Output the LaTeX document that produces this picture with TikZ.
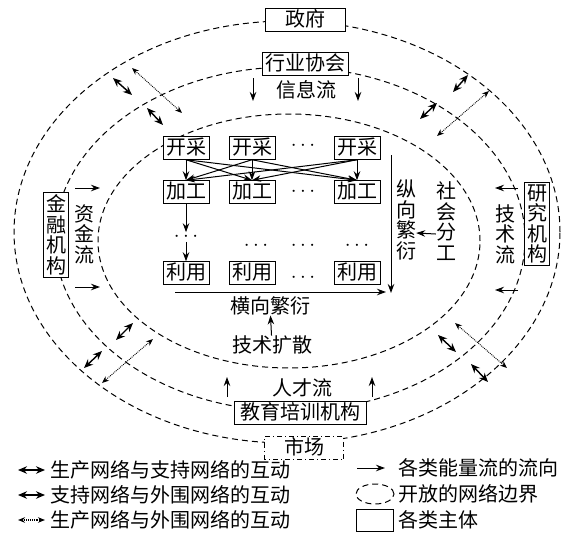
\documentclass[tikz,border=0pt]{standalone}
\usepackage{fontspec}
\setmainfont{Noto Sans CJK SC}
\usetikzlibrary{arrows.meta}
\begin{document}
\begin{tikzpicture}[x=1pt, y=-1pt, >={Stealth[length=9pt, width=6.5pt]},
    every node/.style={font=\fontsize{20}{20.5}\selectfont, inner sep=0pt},
    actor/.style={draw, fill=white, line width=1pt, inner xsep=3pt, inner ysep=2pt, text height=15.5pt, text depth=3pt},
    vactor/.style={draw, fill=white, line width=1pt, inner sep=2.5pt, align=center},
    vlabel/.style={align=center},
    bound/.style={line width=1pt, dash pattern=on 6pt off 4pt},
    flow/.style={->, line width=1pt},
    near/.style={{Stealth[length=9pt, width=7.5pt]}-{Stealth[length=9pt, width=7.5pt]}, line width=1.4pt},
    far/.style={{Stealth[length=7pt, width=5.5pt]}-{Stealth[length=7pt, width=5.5pt]}, line width=0.9pt, densely dotted}]
  \useasboundingbox (0,0) rectangle (578,533);
  % open network boundaries
  \draw[bound] (287,232) ellipse [x radius=273pt, y radius=211pt];
  \draw[bound] (290,239) ellipse [x radius=235pt, y radius=172pt];
  \draw[bound] (289,241) ellipse [x radius=191pt, y radius=127pt];

  % production network
  \foreach \i/\x in {1/186, 2/252, 3/357} {
    \node[actor] (mine\i) at (\x,148) {开采};
    \node[actor] (proc\i) at (\x,192) {加工};
    \node[actor] (use\i) at (\x,273) {利用};
  }
  \node (mdots) at (303,146) {$\cdots$};
  \node (pdots) at (303,192) {$\cdots$};
  \node (udots) at (303,278) {$\cdots$};
  \node (dots1) at (186,237) {$\cdots$};
  \node (dots2) at (256,246) {$\cdots$};
  \node (dots3) at (303,246) {$\cdots$};
  \node (dots4) at (357,246) {$\cdots$};
  \foreach \i in {1,2,3}
    \foreach \j in {1,2,3}
      \draw[flow] (mine\i.south) -- (proc\j.north);
  \draw[flow] (proc1) -- (dots1);
  \draw[flow] (dots1) -- (use1);

  \coordinate (vtop) at (391,155);
  \coordinate (vbot) at (391,293);
  \draw[flow] (vtop) -- (vbot);
  \node[vlabel] (vert) at (406,220) {纵\\向\\繁\\衍};
  \coordinate (hleft) at (175,292);
  \coordinate (hright) at (386,292);
  \draw[flow] (hleft) -- (hright);
  \node (horiz) at (270,306) {横向繁衍};
  \node (diffuse) at (272,345) {技术扩散};
  \draw[flow] (diffuse) -- (horiz);
  \node[vlabel] (labor) at (446,221) {社\\会\\分\\工};
  \draw[flow] ([yshift=-13pt]labor.west) -- ([yshift=-13pt]vert.east);

  % support network
  \node[actor, minimum width=80pt] (gov) at (305,20) {政府};
  \node[actor] (assoc) at (305,64) {行业协会};
  \node (info) at (306,90) {信息流};
  \coordinate (ia) at (253,78);  \coordinate (ib) at (253,101);
  \coordinate (ic) at (358,78);  \coordinate (id) at (358,101);
  \draw[flow] (ia) -- (ib);
  \draw[flow] (ic) -- (id);

  \node[vactor] (res) at (537,224) {研\\究\\机\\构};
  \node[vlabel] (techflow) at (505,234) {技\\术\\流};
  \coordinate (ra) at (518,188);  \coordinate (rb) at (495,188);
  \coordinate (rc) at (518,290);  \coordinate (rd) at (495,290);
  \draw[flow] (ra) -- (rb);
  \draw[flow] (rc) -- (rd);

  \node[vactor] (fin) at (56,235) {金\\融\\机\\构};
  \node[vlabel] (capflow) at (84,234) {资\\金\\流};
  \coordinate (fa) at (75,188);  \coordinate (fb) at (100,188);
  \coordinate (fc) at (75,287);  \coordinate (fd) at (100,287);
  \draw[flow] (fa) -- (fb);
  \draw[flow] (fc) -- (fd);

  \node[actor, inner xsep=6pt] (edu) at (300,413) {教育培训机构};
  \node (talent) at (302,388) {人才流};
  \coordinate (ea) at (227,397);  \coordinate (eb) at (227,377);
  \coordinate (ec) at (372,397);  \coordinate (ed) at (372,377);
  \draw[flow] (ea) -- (eb);
  \draw[flow] (ec) -- (ed);

  \node[actor, minimum width=78pt, draw=none] (market) at (304,448) {市场};
  \draw[line width=1pt, dash pattern=on 5pt off 3pt on 1pt off 3pt] (market.south west) rectangle (market.north east);

  % interactions between networks
  \foreach \n/\a/\b/\c/\d in {1/113/78/132/95, 2/147/108/163/125,
      3/468/75/453/92, 4/437/103/420/119, 5/133/323/116/340,
      6/102/351/84/368, 7/438/335/456/352, 8/471/364/488/382} {
    \coordinate (ns\n) at (\a,\b);
    \coordinate (ne\n) at (\c,\d);
    \draw[near] (ns\n) -- (ne\n);
  }
  \foreach \n/\a/\b/\c/\d in {1/132/68/182/113, 2/489/91/437/136,
      3/153/339/102/383, 4/455/323/507/368} {
    \coordinate (fs\n) at (\a,\b);
    \coordinate (fe\n) at (\c,\d);
    \draw[far] (fs\n) -- (fe\n);
  }

  % legend
  \foreach \y/\s/\t in {470/near/生产网络与支持网络的互动,
      495/near/支持网络与外围网络的互动, 520/far/生产网络与外围网络的互动} {
    \coordinate (la\y) at (18,\y);
    \coordinate (lb\y) at (45,\y);
    \draw[\s, line width=1.1pt] (la\y) -- (lb\y);
    \node[anchor=west] (lt\y) at (50,\y) {\t};
  }
  \coordinate (lflowa) at (357,468);
  \coordinate (lflowb) at (385,468);
  \draw[flow] (lflowa) -- (lflowb);
  \node[anchor=west] (lflow) at (398,468) {各类能量流的流向};
  \draw[bound] (375,494) ellipse [x radius=19pt, y radius=10pt];
  \node[anchor=west] (lbound) at (398,494) {开放的网络边界};
  \draw[line width=1pt] (356,509) rectangle (393,531);
  \node[anchor=west] (lactor) at (398,520) {各类主体};
\end{tikzpicture}
\end{document}
